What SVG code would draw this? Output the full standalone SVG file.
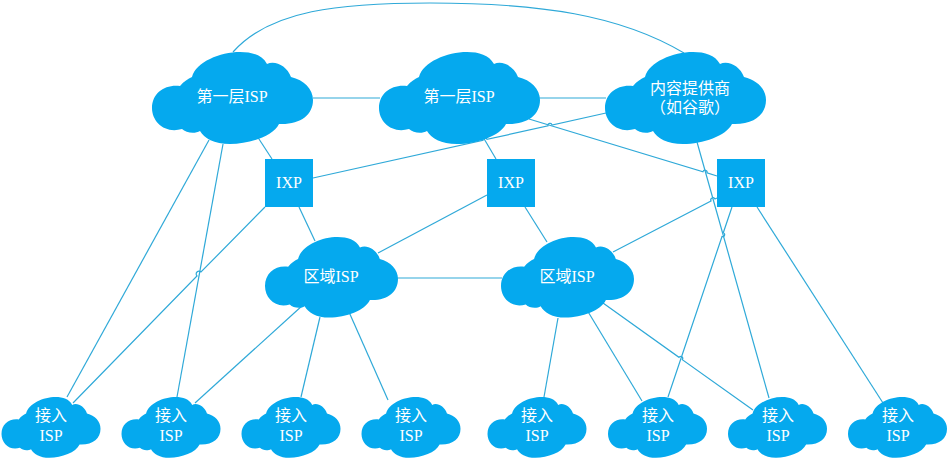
<svg xmlns="http://www.w3.org/2000/svg" xmlns:xlink="http://www.w3.org/1999/xlink" width="949" height="458" viewBox="0 0 949 458">
<style>
.c{fill:none;stroke:#2fa9d8;stroke-width:1.2}
.n{fill:#05a9ee}
text{fill:#fff;font-family:"Liberation Serif","Noto Sans CJK SC",serif;font-size:16px;text-anchor:middle}
</style>
<defs>
<path id="cloud" d="M28,34C32,29 36,27 40,25C44,10 68,0 88,0C100,0 110,3 115,12C123,8 135,14 139,25C152,28 161,37 161,48C161,63 148,73 127,72C121,84 98,92 78,92C62,92 52,86 48,79C43,82 34,81 30,77C13,82 0,70 0,56C0,41 13,32 28,34Z"/>
</defs>
<rect width="949" height="458" fill="#fff"/>
<g id="connectors">
<path class="c" d="M233,52C270,10 340,3 430,3C540,3 620,15 684,53"/>
<path class="c" d="M313,98H380"/>
<path class="c" d="M539,98H606"/>
<path class="c" d="M209,140L67,397"/>
<path class="c" d="M223,144L177,397"/>
<path class="c" d="M257,136L272,159"/>
<path class="c" d="M265,207L201,272A2,2 0 0 0 197,276L73,403"/>
<path class="c" d="M299,207L315,241"/>
<path class="c" d="M313,178L483,140.3A2,2 0 0 1 487,139.4L548,125.8A2,2 0 0 1 552,125L606,113"/>
<path class="c" d="M483,137L496,159"/>
<path class="c" d="M529,119L703,171.7A2,2 0 0 1 707,172.9L717,176"/>
<path class="c" d="M697,142L769,398"/>
<path class="c" d="M487,195L378,253"/>
<path class="c" d="M525,207L547,242"/>
<path class="c" d="M397,278H502"/>
<path class="c" d="M613,252L711,201A2,2 0 0 1 715,199L717,198"/>
<path class="c" d="M732,207L723.3,232.7A2,2 0 0 1 722,236.5L668,397"/>
<path class="c" d="M757,207L883,403"/>
<path class="c" d="M303,305L195,403"/>
<path class="c" d="M320,317L301,397"/>
<path class="c" d="M349,312L388,400"/>
<path class="c" d="M558,318L544,397"/>
<path class="c" d="M587,310L642,401"/>
<path class="c" d="M603,303L679,357.3A2,2 0 0 1 682.3,359.7L753,410"/>
</g>
<g id="tier1a"><use xlink:href="#cloud" class="n" x="152" y="52"/><text x="232" y="102">第一层ISP</text></g>
<g id="tier1b"><use xlink:href="#cloud" class="n" x="379" y="52"/><text x="459" y="102">第一层ISP</text></g>
<g id="content"><use xlink:href="#cloud" class="n" x="605" y="52"/><text x="690" y="94">内容提供商</text><text x="690" y="113">（如谷歌）</text></g>
<g id="ixp1"><rect class="n" x="265" y="159" width="48" height="48"/><text x="289" y="188">IXP</text></g>
<g id="ixp2"><rect class="n" x="487" y="159" width="48" height="48"/><text x="511" y="188">IXP</text></g>
<g id="ixp3"><rect class="n" x="717" y="159" width="48" height="48"/><text x="741" y="188">IXP</text></g>
<g id="region1"><use xlink:href="#cloud" class="n" transform="translate(265 237) scale(.826 .875)"/><text x="331" y="282">区域ISP</text></g>
<g id="region2"><use xlink:href="#cloud" class="n" transform="translate(501 237) scale(.826 .875)"/><text x="567" y="282">区域ISP</text></g>
<g id="access1"><use xlink:href="#cloud" class="n" transform="translate(1.5 397) scale(.615 .66)"/><text x="51" y="421">接入</text><text x="51" y="441">ISP</text></g>
<g id="access2"><use xlink:href="#cloud" class="n" transform="translate(121.5 397) scale(.615 .66)"/><text x="171" y="421">接入</text><text x="171" y="441">ISP</text></g>
<g id="access3"><use xlink:href="#cloud" class="n" transform="translate(241.5 397) scale(.615 .66)"/><text x="291" y="421">接入</text><text x="291" y="441">ISP</text></g>
<g id="access4"><use xlink:href="#cloud" class="n" transform="translate(361.5 397) scale(.615 .66)"/><text x="411" y="421">接入</text><text x="411" y="441">ISP</text></g>
<g id="access5"><use xlink:href="#cloud" class="n" transform="translate(487.5 397) scale(.615 .66)"/><text x="537" y="421">接入</text><text x="537" y="441">ISP</text></g>
<g id="access6"><use xlink:href="#cloud" class="n" transform="translate(608 397) scale(.615 .66)"/><text x="658" y="421">接入</text><text x="658" y="441">ISP</text></g>
<g id="access7"><use xlink:href="#cloud" class="n" transform="translate(728 397) scale(.615 .66)"/><text x="778" y="421">接入</text><text x="778" y="441">ISP</text></g>
<g id="access8"><use xlink:href="#cloud" class="n" transform="translate(848 397) scale(.615 .66)"/><text x="898" y="421">接入</text><text x="898" y="441">ISP</text></g>
</svg>
